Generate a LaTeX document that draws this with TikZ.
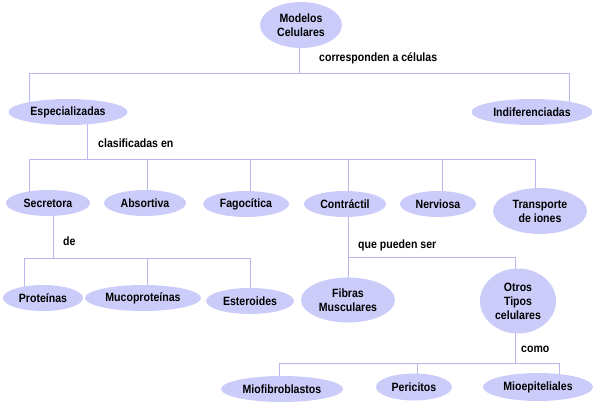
\documentclass[tikz,border=0pt]{standalone}
\usepackage{fontspec}
\setmainfont{Liberation Sans}[FakeStretch=0.88]
\usetikzlibrary{shapes.geometric,backgrounds}
\definecolor{cellfill}{RGB}{204,204,250}
\definecolor{linkcol}{RGB}{184,184,236}
\tikzset{
  cell/.style={ellipse, fill=cellfill, draw=none, inner sep=0pt, align=center,
    font=\fontsize{12}{14}\selectfont\bfseries},
  lbl/.style={anchor=base west, inner sep=0pt, font=\fontsize{12}{14}\selectfont\bfseries},
  link/.style={draw=linkcol, line width=1pt}
}
\begin{document}
\begin{tikzpicture}[x=1pt,y=-1pt]
\useasboundingbox (0,0) rectangle (600,404);
% nodes
\node[cell, minimum width=82pt, minimum height=46pt] (modelos) at (301,25) {Modelos\\Celulares};
\node[cell, minimum width=119pt, minimum height=26pt] (espec) at (68,112) {Especializadas};
\node[cell, minimum width=121pt, minimum height=26pt] (indif) at (532,112) {Indiferenciadas};
\node[cell, minimum width=84pt, minimum height=26pt] (secr) at (48,203) {Secretora};
\node[cell, minimum width=82pt, minimum height=26pt] (abs) at (145,203) {Absortiva};
\node[cell, minimum width=86pt, minimum height=26pt] (fago) at (246,204) {Fagocítica};
\node[cell, minimum width=82pt, minimum height=26pt] (contr) at (345,204) {Contráctil};
\node[cell, minimum width=76pt, minimum height=26pt] (nerv) at (438,204) {Nerviosa};
\node[cell, minimum width=94pt, minimum height=46pt] (transp) at (540,211) {Transporte\\de iones};
\node[cell, minimum width=80pt, minimum height=26pt] (prot) at (43,298) {Proteínas};
\node[cell, minimum width=116pt, minimum height=26pt] (muco) at (143,298) {Mucoproteínas};
\node[cell, minimum width=88pt, minimum height=26pt] (ester) at (250,301) {Esteroides};
\node[cell, minimum width=94pt, minimum height=45pt] (fibras) at (348,300) {Fibras\\Musculares};
\node[cell, minimum width=76pt, minimum height=65pt] (otros) at (518,301) {Otros\\Tipos\\celulares};
\node[cell, minimum width=122pt, minimum height=26pt] (miofi) at (282,389) {Miofibroblastos};
\node[cell, minimum width=76pt, minimum height=27pt] (peri) at (414,387) {Pericitos};
\node[cell, minimum width=110pt, minimum height=28pt] (mioep) at (538,387) {Mioepiteliales};
% labels
\node[lbl] (l1) at (319,62) {corresponden a células};
\node[lbl] (l2) at (98,147) {clasificadas en};
\node[lbl] (l3) at (63,245) {de};
\node[lbl] (l4) at (358,248) {que pueden ser};
\node[lbl] (l5) at (521,352) {como};
% bus coordinates
\coordinate (a0) at (299,74);
\coordinate (a1) at (29,74);
\coordinate (a2) at (569,74);
\coordinate (b0) at (87,159);
\coordinate (b1) at (29,159);
\coordinate (b2) at (147,159);
\coordinate (b3) at (250,159);
\coordinate (b4) at (348,159);
\coordinate (b5) at (442,159);
\coordinate (b6) at (535,159);
\coordinate (c0) at (53,258);
\coordinate (c1) at (24,258);
\coordinate (c2) at (147,258);
\coordinate (c3) at (250,258);
\coordinate (d0) at (348,257);
\coordinate (d1) at (515,257);
\coordinate (e0) at (515,363);
\coordinate (e1) at (279,363);
\coordinate (e2) at (417,363);
\coordinate (e3) at (559,363);
\begin{pgfonlayer}{background}
\draw[link] (a0 |- modelos.center) -- (a0);
\draw[link] (a1 |- espec.center) -- (a1) -- (a2) -- (a2 |- indif.center);
\draw[link] (b0 |- espec.center) -- (b0);
\draw[link] (b1 |- secr.center) -- (b1) -- (b6) -- (b6 |- transp.center);
\draw[link] (b2) -- (b2 |- abs.center);
\draw[link] (b3) -- (b3 |- fago.center);
\draw[link] (b4) -- (b4 |- contr.center);
\draw[link] (b5) -- (b5 |- nerv.center);
\draw[link] (c0 |- secr.center) -- (c0);
\draw[link] (c1 |- prot.center) -- (c1) -- (c3) -- (c3 |- ester.center);
\draw[link] (c2) -- (c2 |- muco.center);
\draw[link] (d0 |- contr.center) -- (d0 |- fibras.center);
\draw[link] (d0) -- (d1) -- (d1 |- otros.center);
\draw[link] (e0 |- otros.center) -- (e0);
\draw[link] (e1 |- miofi.center) -- (e1) -- (e3) -- (e3 |- mioep.center);
\draw[link] (e2) -- (e2 |- peri.center);
\end{pgfonlayer}
\end{tikzpicture}
\end{document}
